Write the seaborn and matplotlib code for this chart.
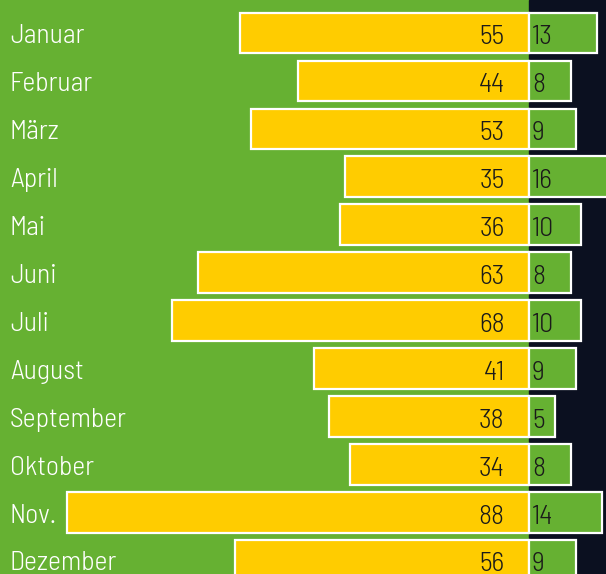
import pandas as pd
import matplotlib
matplotlib.use('Agg')
import matplotlib.pyplot as plt
from matplotlib import font_manager
import seaborn as sns

months = ['Januar', 'Februar', 'März', 'April', 'Mai', 'Juni', 'Juli',
          'August', 'September', 'Oktober', 'Nov.', 'Dezember']
yellow_vals = [55, 44, 53, 35, 36, 63, 68, 41, 38, 34, 88, 56]
green_vals = [13, 8, 9, 16, 10, 8, 10, 9, 5, 8, 14, 9]

df = pd.DataFrame({'Monat': months, 'gelb': yellow_vals, 'gruen': green_vals})
df['gelb_neg'] = -df['gelb']

sns.set_theme(style='white')

# look for a (semi-)condensed light face among installed fonts
condensed = [f.fname for f in font_manager.fontManager.ttflist if 'ondensed' in f.fname]
font_path = None
for pref in ['SemiCondensed-Light', 'SemiCondensedLight', 'Condensed-Light',
             'CondensedLight', 'Condensed']:
    hits = [f for f in condensed if pref in f and 'Italic' not in f]
    if hits:
        font_path = sorted(hits)[0]
        break

if font_path:
    fp = font_manager.FontProperties(fname=font_path, size=20)
else:
    fp = font_manager.FontProperties(family=['Roboto', 'DejaVu Sans'], weight='light', size=17)

fig = plt.figure(figsize=(6.06, 5.74), dpi=100)
ax = fig.add_axes([0, 0, 1, 1])

# backgrounds: green left of zero, dark navy right
ax.axvspan(-120, 0, color='#66b132', zorder=0)
ax.axvspan(0, 30, color='#0b1020', zorder=0)

sns.barplot(data=df, x='gelb_neg', y='Monat', order=months, color='#ffcc00',
            saturation=1, width=0.85, edgecolor='white', linewidth=1.6,
            orient='h', ax=ax, zorder=2)
sns.barplot(data=df, x='gruen', y='Monat', order=months, color='#66b132',
            saturation=1, width=0.85, edgecolor='white', linewidth=1.6,
            orient='h', ax=ax, zorder=2)

ax.set_xlim(-100.8, 14.7)
ax.set_ylim(11.29, -0.69)

for i, (m, yv, gv) in enumerate(zip(months, yellow_vals, green_vals)):
    ax.text(-100.8 + 10 / 5.25, i + 0.07, m, color='white', fontproperties=fp,
            ha='left', va='center', zorder=3)
    ax.text(-4.6, i + 0.09, str(yv), color='#1a1a1a', fontproperties=fp,
            ha='right', va='center', zorder=3)
    ax.text(0.6, i + 0.09, str(gv), color='#1a1a1a', fontproperties=fp,
            ha='left', va='center', zorder=3)

ax.set_axis_off()
fig.savefig('out.png', dpi=100)
plt.close(fig)
